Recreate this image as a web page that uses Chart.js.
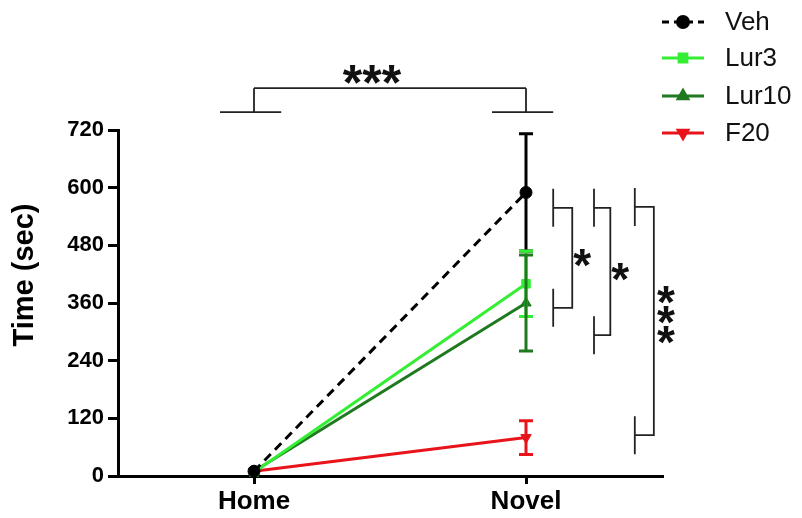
<!DOCTYPE html>
<html>
<head>
<meta charset="utf-8">
<script src="https://cdn.jsdelivr.net/npm/chart.js@4.4.1/dist/chart.umd.min.js"></script>
<style>
  html, body { margin: 0; padding: 0; background: #fff; }
  #wrap { width: 802px; height: 518px; }
</style>
</head>
<body>
<div id="wrap"><canvas id="chart" width="802" height="518"></canvas></div>
<script>
const categories = ['Home', 'Novel'];
const seriesNames = ['Veh', 'Lur3', 'Lur10', 'F20'];
const vehMean = [10, 590];
const vehSem = [0, 122];
const lur3Mean = [8, 400];
const lur3Sem = [0, 68];
const lur10Mean = [10, 360];
const lur10Sem = [0, 100];
const f20Mean = [10, 80];
const f20Sem = [0, 35];
const yTicks = [0, 120, 240, 360, 480, 600, 720];
const yTitle = 'Time (sec)';

// significance brackets, x in category units, y in data units
const topBracket = { from: 0, to: 1, y: 807, foot: 757, labelX: 0.434, labelY: 835, label: '***' };
const sideBrackets = [
  { x: 1.10, x2: 1.17, top: 558, bottom: 350, label: '*' },
  { x: 1.25, x2: 1.31, top: 558, bottom: 293, label: '*' },
  { x: 1.40, x2: 1.47, top: 560, bottom: 85, label: '***' }
];

const colors = ['#000000', '#33ee33', '#1f7a1f', '#e8141a'];
const styles = ['circle', 'rect', 'triangle', 'triangle'];
const rotations = [0, 0, 0, 180];
const means = [vehMean, lur3Mean, lur10Mean, f20Mean];
const sems = [vehSem, lur3Sem, lur10Sem, f20Sem];

const datasets = seriesNames.map((name, i) => ({
  label: name,
  data: means[i],
  borderColor: colors[i],
  backgroundColor: colors[i],
  borderWidth: 3,
  borderDash: i === 0 ? [9, 6] : [],
  pointStyle: styles[i],
  rotation: rotations[i],
  pointRadius: 6,
  pointBorderWidth: 1,
  clip: false,
  tension: 0
}));

const errorBars = {
  id: 'errorBars',
  afterDatasetsDraw(chart) {
    const ctx = chart.ctx;
    const x = chart.scales.x, y = chart.scales.y;
    ctx.save();
    ctx.lineWidth = 3;
    means.forEach((m, i) => {
      ctx.strokeStyle = colors[i];
      m.forEach((v, j) => {
        const s = sems[i][j];
        if (!s) return;
        const px = x.getPixelForValue(j);
        const top = y.getPixelForValue(v + s), bot = y.getPixelForValue(v - s);
        ctx.beginPath();
        ctx.moveTo(px, top); ctx.lineTo(px, bot);
        ctx.moveTo(px - 7, top); ctx.lineTo(px + 7, top);
        ctx.moveTo(px - 7, bot); ctx.lineTo(px + 7, bot);
        ctx.stroke();
      });
    });
    ctx.restore();
  }
};

// draw an asterisk string centred on (cx, cy)
function starText(ctx, txt, cx, cy) {
  const m = ctx.measureText(txt);
  const base = cy + (m.actualBoundingBoxAscent - m.actualBoundingBoxDescent) / 2;
  ctx.fillText(txt, cx, base);
}

const annotations = {
  id: 'annotations',
  afterDraw(chart) {
    const ctx = chart.ctx;
    const x = chart.scales.x, y = chart.scales.y;
    ctx.save();
    ctx.strokeStyle = '#222';
    ctx.fillStyle = '#111';
    ctx.lineWidth = 1.8;

    // y title
    ctx.save();
    ctx.translate(25, 275);
    ctx.rotate(-Math.PI / 2);
    ctx.font = 'bold 29px "Liberation Sans", Arial, sans-serif';
    ctx.textAlign = 'center';
    ctx.textBaseline = 'middle';
    ctx.fillStyle = '#000';
    ctx.fillText(yTitle, 0, 0);
    ctx.restore();

    // top bracket Home vs Novel
    const yt = y.getPixelForValue(topBracket.y), yf = y.getPixelForValue(topBracket.foot);
    [topBracket.from, topBracket.to].forEach(c => {
      const px = x.getPixelForValue(c);
      ctx.beginPath();
      ctx.moveTo(x.getPixelForValue(c - 0.125), yf); ctx.lineTo(x.getPixelForValue(c + 0.1), yf);
      ctx.moveTo(px, yf); ctx.lineTo(px, yt);
      ctx.stroke();
    });
    ctx.beginPath();
    ctx.moveTo(x.getPixelForValue(topBracket.from), yt);
    ctx.lineTo(x.getPixelForValue(topBracket.to), yt);
    ctx.stroke();
    ctx.font = 'bold 50px "Liberation Sans", Arial, sans-serif';
    ctx.textAlign = 'center';
    ctx.textBaseline = 'alphabetic';
    starText(ctx, topBracket.label, x.getPixelForValue(topBracket.labelX), y.getPixelForValue(topBracket.labelY));

    // side brackets between groups at Novel
    sideBrackets.forEach(b => {
      const x1 = x.getPixelForValue(b.x), x2 = x.getPixelForValue(b.x2);
      const y1 = y.getPixelForValue(b.top), y2 = y.getPixelForValue(b.bottom);
      ctx.beginPath();
      ctx.moveTo(x1, y1 - 19); ctx.lineTo(x1, y1 + 19);
      ctx.moveTo(x1, y2 - 19); ctx.lineTo(x1, y2 + 19);
      ctx.moveTo(x1, y1); ctx.lineTo(x2, y1); ctx.lineTo(x2, y2); ctx.lineTo(x1, y2);
      ctx.stroke();
      const ym = (y1 + y2) / 2;
      ctx.font = 'bold 46px "Liberation Sans", Arial, sans-serif';
      ctx.textAlign = 'center';
      if (b.label.length === 1) {
        starText(ctx, '*', x2 + 10, ym);
      } else {
        for (let k = 0; k < b.label.length; k++) {
          starText(ctx, '*', x2 + 12, ym - 6 + (k - 1) * 20);
        }
      }
    });

    // legend
    ctx.font = '26px "Liberation Sans", Arial, sans-serif';
    ctx.textAlign = 'left';
    ctx.textBaseline = 'middle';
    const rows = [22, 58, 96, 133];
    seriesNames.forEach((name, i) => {
      const ly = rows[i];
      ctx.strokeStyle = colors[i];
      ctx.fillStyle = colors[i];
      ctx.lineWidth = 3;
      ctx.setLineDash(i === 0 ? [7, 5] : []);
      ctx.beginPath();
      ctx.moveTo(662, ly); ctx.lineTo(704, ly);
      ctx.stroke();
      ctx.setLineDash([]);
      Chart.helpers.drawPoint(ctx, { pointStyle: styles[i], rotation: rotations[i], radius: 5.5, borderWidth: 1 }, 683, ly);
      ctx.fillStyle = '#111';
      ctx.fillText(name, 725, ly + 1);
    });
    ctx.restore();
  }
};

new Chart(document.getElementById('chart'), {
  type: 'line',
  data: { labels: categories, datasets: datasets },
  options: {
    responsive: false,
    animation: false,
    layout: { padding: { left: 0, top: 130, right: 140, bottom: 0 } },
    plugins: { legend: { display: false }, tooltip: { enabled: false } },
    scales: {
      x: {
        offset: true,
        grid: { drawOnChartArea: false, drawTicks: true, tickLength: 8, color: '#000', lineWidth: 3 },
        border: { color: '#000', width: 3 },
        ticks: { color: '#000', padding: 2, font: { family: '"Liberation Sans", Arial', size: 26, weight: 'bold' } },
        afterFit(s) { s.height = 42; }
      },
      y: {
        min: 0,
        max: 720,
        afterBuildTicks(s) { s.ticks = yTicks.map(v => ({ value: v })); },
        grid: { drawOnChartArea: false, drawTicks: true, tickLength: 10, color: '#000', lineWidth: 3 },
        border: { color: '#000', width: 3 },
        ticks: { color: '#000', padding: 4, font: { family: '"Liberation Sans", Arial', size: 22, weight: 'bold' } },
        afterFit(s) { s.width = 118; }
      }
    }
  },
  plugins: [errorBars, annotations]
});
</script>
</body>
</html>
